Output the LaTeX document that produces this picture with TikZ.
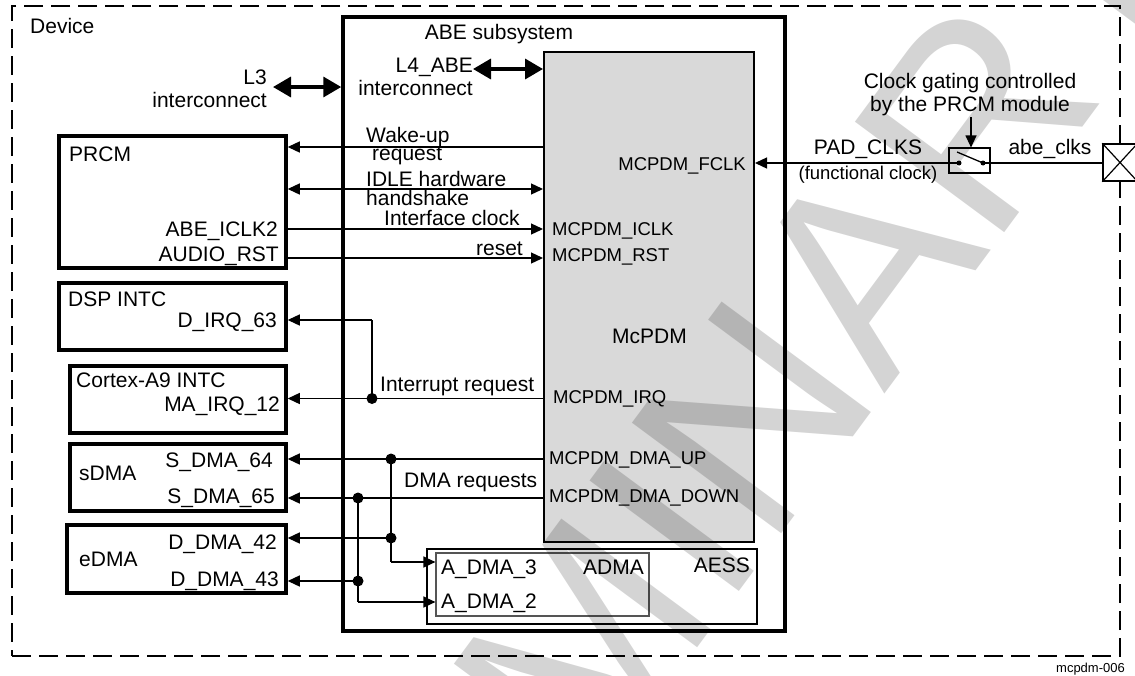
\documentclass[tikz,border=0pt]{standalone}
\usepackage{fontspec}
\setmainfont{Liberation Sans}
\usetikzlibrary{arrows.meta,fit}
\begin{document}
\begin{tikzpicture}[x=1pt,y=-1pt,
  lbl/.style={font=\fontsize{21}{23}\selectfont, inner sep=0pt, text height=15pt, text depth=0pt},
  sml/.style={font=\fontsize{18.5}{20}\selectfont, inner sep=0pt, text height=13.2pt, text depth=0pt},
  blk/.style={draw, line width=3.5pt, inner sep=0pt},
  sig/.style={line width=1.3pt},
  arr/.style={sig, -{Triangle[length=12pt,width=11pt]}},
  darr/.style={sig, {Triangle[length=12pt,width=11pt]}-{Triangle[length=12pt,width=11pt]}},
  bus/.style={line width=3.5pt, {Triangle[length=18pt,width=20pt]}-{Triangle[length=18pt,width=20pt]}},
  jdot/.style={circle, fill, inner sep=0pt, minimum size=11pt},
]
\useasboundingbox (0,0) rectangle (1135,675);
\fill[white] (0,0) rectangle (1135,675);

% Device (dashed)
\node[draw, line width=2pt, dash pattern=on 19pt off 8pt, inner sep=0pt, fit={(12,6) (1120,656)}] (device) {};
\node[lbl, anchor=west] (devlbl) at (30,26) {Device};

% ABE subsystem
\node[blk, fit={(343,17) (785,631)}] (abe) {};
\node[lbl] (abelbl) at (499,32) {ABE subsystem};

% McPDM
\node[draw, line width=2pt, fill={rgb,255:red,217;green,217;blue,217}, inner sep=0pt, fit={(544,52) (754,542)}] (mcpdm) {};
\node[lbl] (mcpdmlbl) at (649.5,336) {McPDM};

% AESS / ADMA
\node[draw, line width=2.5pt, inner sep=0pt, fit={(427,549) (757,624)}] (aess) {};
\node[draw, line width=1.2pt, draw={rgb,255:red,85;green,85;blue,85}, inner sep=0pt, fit={(436,553) (649,616)}] (adma) {};
\node[lbl, anchor=east] (aesslbl) at (750,565) {AESS};
\node[lbl, anchor=east] (admalbl) at (644,567) {ADMA};
\node[lbl, anchor=west] (adma3) at (441,567) {A\_DMA\_3};
\node[lbl, anchor=west] (adma2) at (441,601) {A\_DMA\_2};

% Left blocks
\node[blk, fit={(59,136) (286,268)}] (prcm) {};
\node[lbl, anchor=west] at (69,154) {PRCM};
\node[lbl, anchor=east] at (278,229) {ABE\_ICLK2};
\node[lbl, anchor=east] at (279,254) {AUDIO\_RST};

\node[blk, fit={(59,283) (286,350)}] (dsp) {};
\node[lbl, anchor=west] at (68,299) {DSP INTC};
\node[lbl, anchor=east] at (277,320) {D\_IRQ\_63};

\node[blk, fit={(70,366) (286,433)}] (cortex) {};
\node[lbl, anchor=west] at (76,380) {Cortex-A9 INTC};
\node[lbl, anchor=east] at (280,404) {MA\_IRQ\_12};

\node[blk, fit={(70,444) (286,511)}] (sdma) {};
\node[lbl, anchor=west] at (79,473) {sDMA};
\node[lbl, anchor=east] at (273,460) {S\_DMA\_64};
\node[lbl, anchor=east] at (275,496) {S\_DMA\_65};

\node[blk, fit={(67,525) (286,593)}] (edma) {};
\node[lbl, anchor=west] at (79,559) {eDMA};
\node[lbl, anchor=east] at (277,542) {D\_DMA\_42};
\node[lbl, anchor=east] at (279,579) {D\_DMA\_43};

% Interconnects
\node[lbl, anchor=east] (l3a) at (267,77) {L3};
\node[lbl, anchor=east] (l3b) at (267,100) {interconnect};
\node[lbl, anchor=east] (l4a) at (473,65) {L4\_ABE};
\node[lbl, anchor=east] (l4b) at (473,88) {interconnect};
\coordinate (l3y) at (0,87);
\coordinate (l4y) at (0,69);
\draw[bus] (273,87) -- (abe.west |- l3y);
\draw[bus] (l4a.east |- l4y) -- (mcpdm.west |- l4y);

% PRCM signals
\coordinate (wky) at (0,147);
\coordinate (idy) at (0,189);
\coordinate (icy) at (0,229);
\coordinate (rsy) at (0,258);
\draw[arr] (mcpdm.west |- wky) -- (prcm.east |- wky);
\draw[darr] (prcm.east |- idy) -- (mcpdm.west |- idy);
\draw[arr] (prcm.east |- icy) -- (mcpdm.west |- icy);
\draw[arr] (prcm.east |- rsy) -- (mcpdm.west |- rsy);
\node[lbl, anchor=west] at (366,135) {Wake-up};
\node[lbl, anchor=west] at (372,153) {request};
\node[lbl, anchor=west] at (366,179) {IDLE hardware};
\node[lbl, anchor=west] at (366,198) {handshake};
\node[lbl, anchor=west] at (384,218) {Interface clock};
\node[lbl, anchor=east] at (523,248) {reset};
\node[sml, anchor=west] at (552,229) {MCPDM\_ICLK};
\node[sml, anchor=west] at (552,255) {MCPDM\_RST};

% Interrupts
\coordinate (irqy) at (0,398.5);
\coordinate (dirqy) at (0,320);
\node[jdot] (jirq) at (372,398.5) {};
\coordinate (jirqtop) at (372,320);
\draw[arr] (mcpdm.west |- irqy) -- (cortex.east |- irqy);
\draw[sig] (jirq.center) -- (jirqtop);
\draw[arr] (jirqtop) -- (dsp.east |- dirqy);
\node[lbl, anchor=west] at (380,384) {Interrupt request};
\node[sml, anchor=west] at (553,397) {MCPDM\_IRQ};

% DMA requests
\coordinate (upy) at (0,459);
\coordinate (dny) at (0,498);
\node[jdot] (jup) at (391,459) {};
\node[jdot] (jup2) at (391,538) {};
\coordinate (jup3) at (391,562);
\node[jdot] (jdn) at (358,498) {};
\node[jdot] (jdn2) at (358,581) {};
\coordinate (jdn3) at (358,602);
\draw[arr] (mcpdm.west |- upy) -- (sdma.east |- upy);
\draw[arr] (mcpdm.west |- dny) -- (sdma.east |- dny);
\draw[sig] (jup.center) -- (jup3);
\draw[sig] (jdn.center) -- (jdn3);
\draw[arr] (jup2.center) -- (edma.east |- jup2);
\draw[arr] (jdn2.center) -- (edma.east |- jdn2);
\draw[arr] (jup3) -- (adma.west |- jup3);
\draw[arr] (jdn3) -- (adma.west |- jdn3);
\node[lbl, anchor=west] at (404,480) {DMA requests};
\node[sml, anchor=west] at (549,458) {MCPDM\_DMA\_UP};
\node[sml, anchor=west] at (549,496) {MCPDM\_DMA\_DOWN};

% Functional clock path
\node[draw, line width=1.2pt, inner sep=0pt, fit={(949,148) (990,173)}] (sw) {};
\node[circle, fill, inner sep=0pt, minimum size=5pt] (swl) at (959,163) {};
\node[circle, fill, inner sep=0pt, minimum size=5pt] (swr) at (983,163) {};
\draw[sig] (957,152) -- (swr.center);
\node[draw, line width=1.5pt, fill=white, inner sep=0pt, fit={(1103,144) (1137,181)}] (pad) {};
\draw[line width=1.2pt] (pad.north west) -- (pad.south east) (pad.south west) -- (pad.north east);
\draw[sig] (swr.center) -- (pad.west |- swr);
\draw[sig, -{Triangle[length=12pt,width=11pt]}] (swl.center) -- (mcpdm.east |- swl);
\node[sml, anchor=east] at (746,164) {MCPDM\_FCLK};
\node[lbl] (gate1) at (970,81) {Clock gating controlled};
\node[lbl] (gate2) at (970,104) {by the PRCM module};
\draw[arr] (971,117) -- (sw.north -| 971,0);
\node[lbl] at (868,147) {PAD\_CLKS};
\node[sml] at (868,173) {(functional clock)};
\node[lbl] at (1050,147) {abe\_clks};
\node[font=\fontsize{13}{15}\selectfont, inner sep=0pt, text height=9.3pt, text depth=0pt, anchor=east] at (1125,668) {mcpdm-006};

% Watermark
\begin{scope}
\clip (0,0) rectangle (1135,675);
\node[anchor=base west, inner sep=0pt, rotate=53.5, text=black, text opacity=0.17, font=\fontsize{270}{270}\selectfont] (wm) at (126,1420) {PRELIMINARY};
\end{scope}
\end{tikzpicture}
\end{document}
